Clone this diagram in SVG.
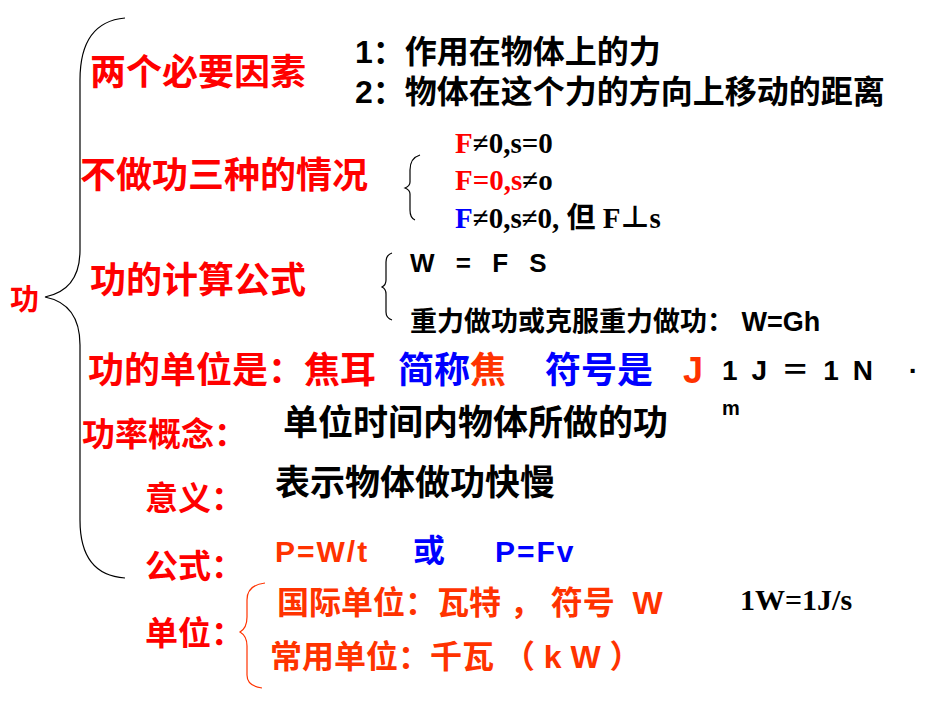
<svg xmlns="http://www.w3.org/2000/svg" width="950" height="713" viewBox="0 0 950 713">
<style>
text{font-family:"Liberation Sans","Noto Sans CJK SC",sans-serif;font-weight:bold}
.h{fill:#ff0000;font-size:36px}
.k{fill:#000;font-size:32px}
.o{fill:#ff3300}
.b{fill:#0000ff}
.t{font-family:"Liberation Serif","Noto Sans CJK SC",serif;font-size:29px}
.br{fill:none;stroke:#000;stroke-width:1.2}
</style>
<rect width="950" height="713" fill="#fff"/>
<path class="br" d="M125,18 Q80,22 80,80 L80,250 Q80,290 45,297 Q80,304 80,345 L80,520 Q80,575 125,578"/>
<path class="br" d="M420,155 Q410,158 410,170 L410,182 Q410,186 405,188 Q410,190 410,194 L410,210 Q410,218 415,220"/>
<path class="br" d="M392,253 Q386,255 386,262 L386,280 Q386,285 382,287 Q386,289 386,294 L386,312 Q386,318 392,320"/>
<path d="M265,583 Q247,585 247,600 L247,617 Q247,628 240,632 Q247,636 247,646 L247,675 Q247,686 262,688" fill="none" stroke="#ff3300" stroke-width="1.2"/>
<text x="10" y="310" class="h" style="font-size:29px">功</text>
<text x="90" y="85" class="h">两个必要因素</text>
<text x="355" y="63" class="k" xml:space="preserve">1：作用在物体上的力</text>
<text x="355" y="103" class="k">2：物体在这个力的方向上移动的距离</text>
<text x="80" y="188" class="h" style="font-size:36px">不做功三种的情况</text>
<text x="455" y="153" class="t"><tspan fill="#ff0000">F</tspan>≠0,s=0</text>
<text x="455" y="190" class="t" fill="#ff0000">F=0,s<tspan fill="#000">≠o</tspan></text>
<text x="455" y="228" class="t"><tspan fill="#0000ff">F</tspan>≠0,s≠0, 但 F⊥s</text>
<text x="90" y="293" class="h">功的计算公式</text>
<text x="410" y="272" class="k" style="font-size:26px;letter-spacing:7px">W = F S</text>
<text x="410" y="331" class="k" style="font-size:27px">重力做功或克服重力做功： W=Gh</text>
<text x="88" y="383" class="h">功的单位是：焦耳</text>
<text x="398" y="383" class="h"><tspan class="b">简称</tspan><tspan class="o">焦</tspan></text>
<text x="545" y="383" class="h b">符号是</text>
<text x="683" y="383" class="h o">J</text>
<text x="722" y="380" class="k" style="font-size:28px;letter-spacing:14px">1J＝1N ·</text>
<text x="722" y="415" class="k" style="font-size:20px">m</text>
<text x="82" y="446" class="h" style="font-size:33px">功率概念：</text>
<text x="283" y="435" class="k" style="font-size:35px">单位时间内物体所做的功</text>
<text x="145" y="510" class="h" style="font-size:33px">意义：</text>
<text x="275" y="495" class="k" style="font-size:35px">表示物体做功快慢</text>
<text x="145" y="578" class="h" style="font-size:33px">公式：</text>
<text x="275" y="562" class="o" style="font-size:30px;letter-spacing:2px">P=W/t</text>
<text x="413" y="562" class="b" style="font-size:32px">或</text>
<text x="495" y="562" class="b" style="font-size:30px;letter-spacing:2px">P=Fv</text>
<text x="145" y="645" class="h" style="font-size:33px">单位：</text>
<text x="277" y="614" class="o" style="font-size:32px" xml:space="preserve">国际单位：瓦特 ， 符号  W</text>
<text x="740" y="610" class="t" style="font-size:30px">1W=1J/s</text>
<text x="270" y="668" class="o" style="font-size:32px" xml:space="preserve">常用单位：千瓦 （ k W ）</text>
</svg>
